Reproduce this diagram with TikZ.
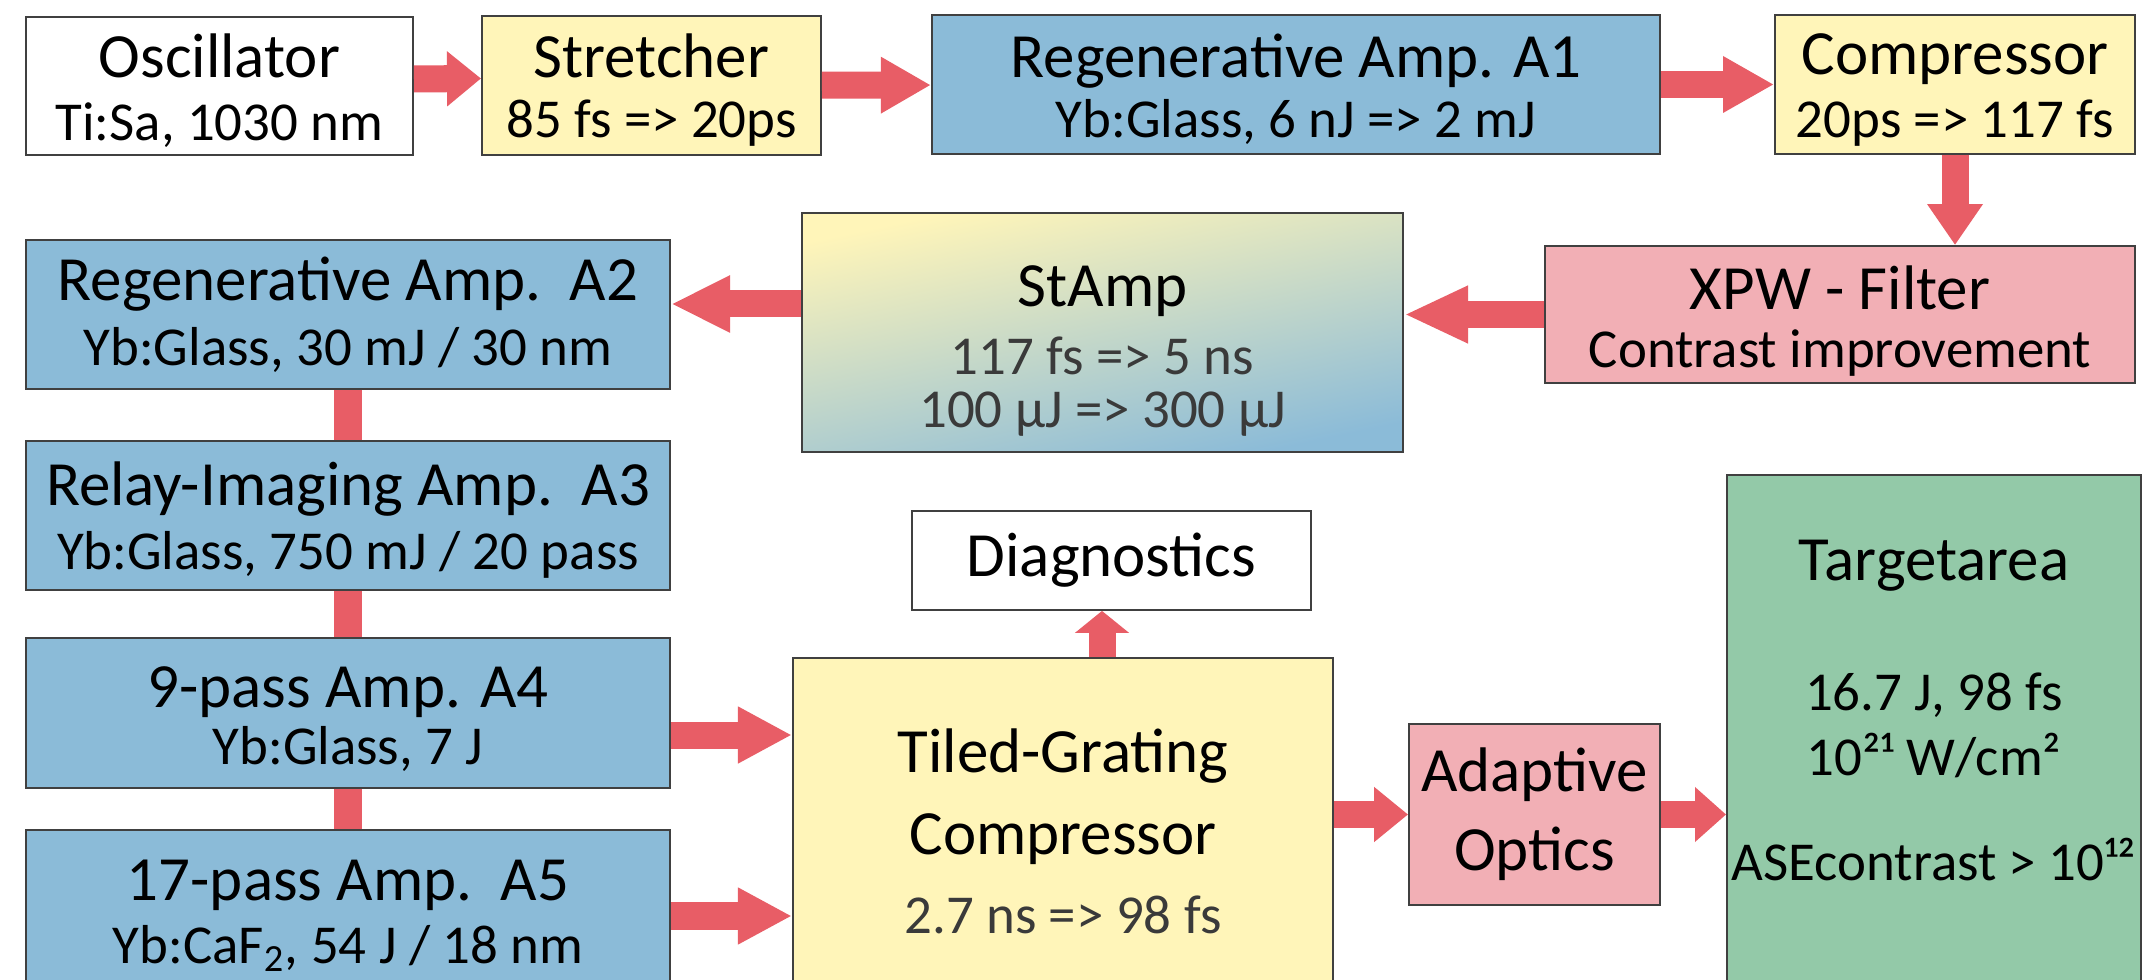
\documentclass[tikz,border=0pt]{standalone}
\usepackage{fontspec}
\setmainfont{Carlito}
\usetikzlibrary{arrows.meta}

\definecolor{ampblue}{HTML}{8BBBD8}
\definecolor{padyellow}{HTML}{FFF5B9}
\definecolor{filterpink}{HTML}{F2AFB5}
\definecolor{targetgreen}{HTML}{93C9A8}
\definecolor{beamred}{HTML}{E85D66}
\definecolor{boxline}{HTML}{404040}
\definecolor{greytext}{HTML}{3A3A3A}

\newcommand{\boxtitle}{\fontsize{17.9}{17.4}\selectfont}
\newcommand{\boxsub}{\fontsize{15.6}{17.4}\selectfont}
\newcommand{\lead}[1]{\rule{0pt}{#1}}

\tikzset{
  box/.style={draw=boxline, line width=0.5pt, align=center, inner sep=0pt, font=\boxsub},
  beam/.style={draw=beamred, line width=0.27cm, -{Triangle[length=#1, width=0.53cm]}},
  beam/.default=0.34cm,
  link/.style={draw=beamred, line width=0.27cm}
}

\begin{document}
\begin{tikzpicture}[x=0.01cm, y=-0.01cm]
    \path[use as bounding box, clip] (0,0) rectangle (2146,980);
    \fill[white] (0,0) rectangle (2146,980);

    \node[box, fill=white, minimum width=3.87cm, minimum height=1.38cm] (osc) at (219.5,86) {\lead{15pt}\boxtitle Oscillator\\[0.5pt]\boxsub Ti:Sa, 1030 nm};
    \node[box, fill=padyellow, minimum width=3.39cm, minimum height=1.39cm] (str) at (651.5,85.5) {\lead{15pt}\boxtitle Stretcher\\[-0.5pt]\boxsub 85 fs => 20ps};
    \node[box, fill=ampblue, minimum width=7.28cm, minimum height=1.39cm] (reg1) at (1296,84.5) {\lead{15pt}\boxtitle Regenerative Amp. A1\\[-0.5pt]\boxsub Yb:Glass, 6 nJ => 2 mJ};
    \node[box, fill=padyellow, minimum width=3.60cm, minimum height=1.39cm] (comp) at (1955,84.5) {\lead{15pt}\boxtitle Compressor\\[0.5pt]\boxsub 20ps => 117 fs};
    \node[box, fill=filterpink, minimum width=5.90cm, minimum height=1.37cm] (xpw) at (1840,314.5) {\lead{16pt}\boxtitle XPW - Filter\\[-1pt]\boxsub Contrast improvement};
    \node[box, top color=padyellow, bottom color=ampblue, shading angle=12, minimum width=6.01cm, minimum height=2.39cm] (stamp) at (1102.5,332.5) {\lead{22pt}\boxtitle StAmp\\[2pt]\color{greytext}\boxsub 117 fs => 5 ns\\[-2.3pt]\color{greytext}100 µJ => 300 µJ};

    \node[box, fill=ampblue, minimum width=6.44cm, minimum height=1.49cm] (a2) at (348,314.5) {\boxtitle Regenerative Amp.\ \ A2\\[1pt]\boxsub Yb:Glass, 30 mJ / 30 nm};
    \node[box, fill=ampblue, minimum width=6.44cm, minimum height=1.49cm] (a3) at (348,515.5) {\lead{15pt}\boxtitle Relay-Imaging Amp.\ \ A3\\[1pt]\boxsub Yb:Glass, 750 mJ / 20 pass};
    \node[box, fill=ampblue, minimum width=6.44cm, minimum height=1.50cm] (a4) at (348,713) {\lead{15pt}\boxtitle 9-pass Amp. A4\\[-1pt]\boxsub Yb:Glass, 7 J};
    \node[box, fill=ampblue, minimum width=6.44cm, minimum height=1.72cm] (a5) at (348,916) {\boxtitle 17-pass Amp.\ \ A5\\[0.5pt]\boxsub Yb:CaF\textsubscript{2}, 54 J / 18 nm};

    \node[box, fill=white, minimum width=3.99cm, minimum height=0.99cm] (diag) at (1111.5,560.5) {\boxtitle Diagnostics};
    \node[box, fill=padyellow, minimum width=5.40cm, minimum height=3.46cm] (tiled) at (1063,831) {\boxtitle Tiled-Grating\\[6pt]\boxtitle Compressor\\[5pt]\color{greytext}\boxsub 2.7 ns => 98 fs};
    \node[box, fill=filterpink, minimum width=2.51cm, minimum height=1.81cm] (adapt) at (1534.5,814.5) {\boxtitle Adaptive\\[5pt]\boxtitle Optics};
    \node[box, fill=targetgreen, minimum width=4.14cm, minimum height=5.15cm] (target) at (1934,732.5) {\boxtitle Targetarea\\[19.6pt]\boxsub 16.7 J, 98 fs\\[1pt]10²¹ W/cm²\\[12.5pt]ASEcontrast > 10¹²\\[-4.9pt]\mbox{}};

    \draw[beam=0.34cm] ([yshift=0.07cm]osc.east) -- ([yshift=0.07cm]str.west);
    \draw[beam=0.50cm] (str) -- (reg1);
    \draw[beam=0.51cm] (reg1) -- (comp);
    \draw[beam=0.41cm] (comp.south) -- (comp.south |- xpw.north);
    \draw[beam=0.64cm] (xpw.west) -- (xpw.west -| stamp.east);
    \coordinate (a2in) at ([yshift=0.105cm]a2.east);
    \draw[beam=0.59cm] (a2in -| stamp.west) -- (a2in);
    \draw[link] (a2) -- (a3);
    \draw[link] (a3) -- (a4);
    \draw[link] (a4) -- (a5);
    \coordinate (a4out) at ([yshift=-0.22cm]a4.east);
    \draw[beam=0.54cm] (a4out) -- (a4out -| tiled.west);
    \draw[beam=0.54cm] (a5.east) -- (a5.east -| tiled.west);
    \coordinate (diagin) at ([xshift=-0.095cm]diag.south);
    \draw[beam=0.22cm] (diagin |- tiled.north) -- (diagin);
    \draw[beam=0.34cm] (tiled.east |- adapt) -- (adapt.west);
    \draw[beam=0.31cm] (adapt.east) -- (adapt.east -| target.west);
\end{tikzpicture}
\end{document}
